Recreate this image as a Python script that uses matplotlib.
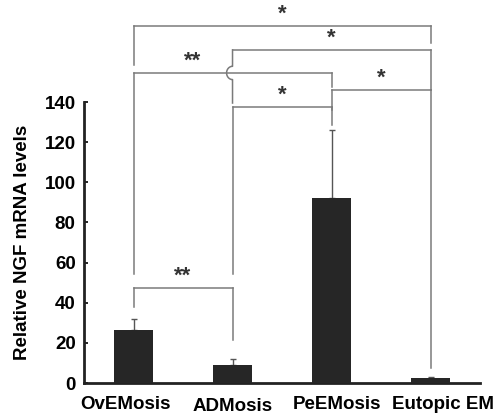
import numpy as np
import matplotlib
matplotlib.use("Agg")
import matplotlib.pyplot as plt
import matplotlib.transforms as mtransforms
from matplotlib import font_manager

names = {f.name for f in font_manager.fontManager.ttflist}
fam = ["Liberation Sans", "DejaVu Sans"]
fam = [f for f in fam if f in names] or ["DejaVu Sans"]
plt.rcParams["font.family"] = fam

categories = ["OvEMosis", "ADMosis", "PeEMosis", "Eutopic EM"]
values = [26.5, 9.0, 92.0, 2.5]
errors = [5.5, 3.0, 34.0, 0.5]
yticks = [0, 20, 40, 60, 80, 100, 120, 140]
ylabel = "Relative NGF mRNA levels"

# comparisons: (i, j, bar height, left leg bottom, right leg bottom, label, label x)
comparisons = [
    (0, 3, 178.0, 158.4, 169.4, "*", None),
    (1, 3, 166.0, 139.5, 146.0, "*", None),
    (0, 2, 154.5, 54.3, 147.5, "**", 0.6),
    (2, 3, 146.0, 136.0, 7.5, "*", None),
    (1, 2, 137.5, 54.3, 128.5, "*", None),
    (0, 1, 47.3, 37.9, 21.4, "**", None),
]

fig = plt.figure(figsize=(4.96, 4.18), dpi=100)
ax = fig.add_axes([0.1694, 0.0837, 0.7984, 0.6722])
x = np.arange(len(categories))
ax.bar(x, values, width=0.4, color="#262626", zorder=3)
ax.errorbar(x, values, yerr=[np.zeros(len(errors)), errors], fmt="none",
            ecolor="#555555", elinewidth=1.0, capsize=2.5, capthick=1.0, zorder=2)

ax.set_xlim(-0.5, 3.5)
ax.set_ylim(0, 140)
ax.set_yticks(yticks)
ax.set_yticklabels([str(t) for t in yticks], fontsize=13.5, fontweight="bold")
ax.set_xticks(x)
ax.set_xticklabels(categories, fontsize=13.5, fontweight="bold")
ax.tick_params(axis="y", direction="in", length=3, width=1.2, pad=6)
ax.tick_params(axis="x", length=0, pad=9)
ax.set_ylabel(ylabel, fontsize=13.5, fontweight="bold", labelpad=10)
for s in ["top", "right"]:
    ax.spines[s].set_visible(False)
for s in ["left", "bottom"]:
    ax.spines[s].set_linewidth(2.0)
    ax.spines[s].set_color("#222222")

offsets = [(-8.5, 0), (0, -2), (5, 0), (12, 0)]
for lbl, (dx, dy) in zip(ax.get_xticklabels(), offsets):
    lbl.set_transform(lbl.get_transform() +
                      mtransforms.ScaledTranslation(dx / 100, dy / 100, fig.dpi_scale_trans))

lc = "#7a7a7a"
lw = 1.1
bump_y = 154.5
for (i, j, h, lb, rb, lab, lx) in comparisons:
    ax.plot([i, j], [h, h], color=lc, lw=lw, clip_on=False)
    if i == 1 and j == 3:
        t = np.linspace(np.pi / 2, 3 * np.pi / 2, 30)
        rx, ry = 0.06, 3.3
        xs = np.concatenate([[i, i], i + rx * np.cos(t), [i, i]])
        ys = np.concatenate([[h, bump_y + ry], bump_y + ry * np.sin(t), [bump_y - ry, lb]])
        ax.plot(xs, ys, color=lc, lw=lw, clip_on=False)
    else:
        ax.plot([i, i], [h, lb], color=lc, lw=lw, clip_on=False)
    ax.plot([j, j], [h, rb], color=lc, lw=lw, clip_on=False)
    tx = (i + j) / 2 if lx is None else lx
    ax.text(tx, h + 0.5, lab, ha="center", va="bottom", fontsize=16,
            fontweight="bold", color="#333333", clip_on=False)

fig.savefig("out.png", dpi=100)
